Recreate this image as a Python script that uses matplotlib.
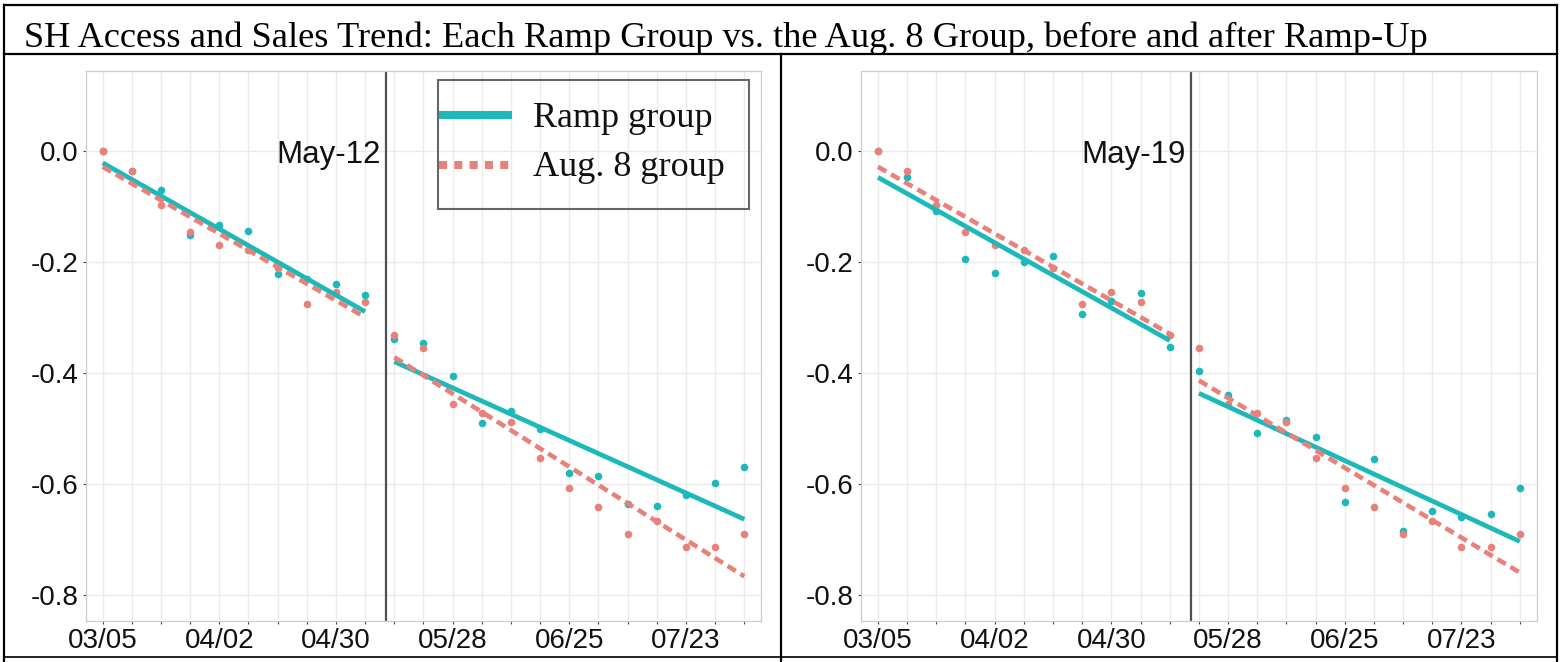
import datetime as dt
import matplotlib
matplotlib.use("Agg")
import matplotlib.pyplot as plt
import matplotlib.dates as mdates
from matplotlib.lines import Line2D
from matplotlib.patches import Rectangle
from matplotlib.ticker import FixedLocator

plt.rcParams["axes.unicode_minus"] = False

# ---------------- data ----------------
title = "SH Access and Sales Trend: Each Ramp Group vs. the Aug. 8 Group, before and after Ramp-Up"
series_names = ["Ramp group", "Aug. 8 group"]

week_start = dt.date(2019, 3, 5)
n_weeks = 23
week_dates = [week_start + dt.timedelta(weeks=i) for i in range(n_weeks)]

aug8_values = [0.000, -0.036, -0.098, -0.147, -0.170, -0.179, -0.212, -0.276, -0.255, -0.272,
               -0.332, -0.356, -0.456, -0.473, -0.489, -0.554, -0.608, -0.642, -0.691, -0.667,
               -0.714, -0.714, -0.691]

ramp_may12 = [0.000, -0.037, -0.070, -0.151, -0.133, -0.145, -0.222, -0.232, -0.240, -0.260,
              -0.340, -0.347, -0.406, -0.491, -0.469, -0.501, -0.580, -0.586, -0.637, -0.640,
              -0.620, -0.598, -0.569]

ramp_may19 = [0.000, -0.048, -0.108, -0.196, -0.220, -0.201, -0.190, -0.295, -0.270, -0.256,
              -0.353, -0.397, -0.441, -0.508, -0.485, -0.516, -0.633, -0.556, -0.685, -0.649,
              -0.660, -0.655, -0.607]

# fitted trend lines: [value at first week, value at last week] of each segment
fit_ramp_pre_may12 = [-0.022, -0.290]
fit_ramp_post_may12 = [-0.380, -0.664]
fit_aug_pre_may12 = [-0.029, -0.300]
fit_aug_post_may12 = [-0.372, -0.767]

fit_ramp_pre_may19 = [-0.048, -0.342]
fit_ramp_post_may19 = [-0.437, -0.704]
fit_aug_pre_may19 = [-0.029, -0.330]
fit_aug_post_may19 = [-0.414, -0.760]

ramp_labels = ["May-12", "May-19"]
ramp_dates = [dt.date(2019, 5, 12), dt.date(2019, 5, 19)]
split_index = [10, 11]   # first post-ramp week

y_ticks = [0.0, -0.2, -0.4, -0.6, -0.8]
x_tick_dates = week_dates[::4]

# ---------------- style ----------------
TEAL = "#1DB9BA"
SALMON = "#E9817B"
W, H = 1564, 662
SANS = "Liberation Sans"
SERIF = "Liberation Serif"


def fx(px):
    return px / W


def fy(py):
    return 1 - py / H


fig = plt.figure(figsize=(W / 100, H / 100), dpi=100)
fig.patch.set_facecolor("white")

ax_boxes = [(86, 761), (861.3, 1536.5)]
ax_top, ax_bot = 71, 620.7

panels = [
    (ramp_may12, fit_ramp_pre_may12, fit_ramp_post_may12, fit_aug_pre_may12, fit_aug_post_may12),
    (ramp_may19, fit_ramp_pre_may19, fit_ramp_post_may19, fit_aug_pre_may19, fit_aug_post_may19),
]

for i, (l, r) in enumerate(ax_boxes):
    ax = fig.add_axes([fx(l), fy(ax_bot), (r - l) / W, (ax_bot - ax_top) / H])
    ramp, f_rp, f_rq, f_ap, f_aq = panels[i]
    s = split_index[i]

    ax.scatter(week_dates, ramp, s=30, color=TEAL, linewidths=0, zorder=3)
    ax.scatter(week_dates, aug8_values, s=30, color=SALMON, linewidths=0, zorder=3.1)

    ax.plot([week_dates[0], week_dates[s - 1]], f_rp, color=TEAL, lw=3.4,
            solid_capstyle="butt", zorder=4)
    ax.plot([week_dates[s], week_dates[-1]], f_rq, color=TEAL, lw=3.4,
            solid_capstyle="butt", zorder=4)
    ax.plot([week_dates[0], week_dates[s - 1]], f_ap, color=SALMON, lw=3.3,
            dashes=(2.1, 1.2), dash_capstyle="butt", zorder=5)
    ax.plot([week_dates[s], week_dates[-1]], f_aq, color=SALMON, lw=3.3,
            dashes=(2.1, 1.2), dash_capstyle="butt", zorder=5)

    ax.axvline(ramp_dates[i], color="#505050", lw=1.6, zorder=2)
    ax.annotate(ramp_labels[i], xy=(ramp_dates[i], 0.0), xytext=(-3.4, -9.1),
                textcoords="offset points", ha="right", va="baseline",
                fontsize=22.5, family=SANS, color="#111111", zorder=6)

    ax.set_xlim(week_start - dt.timedelta(days=4.1), week_start + dt.timedelta(days=158.15))
    ax.set_ylim(-0.8468, 0.1436)

    ax.xaxis.set_major_locator(FixedLocator(mdates.date2num(x_tick_dates)))
    ax.xaxis.set_minor_locator(FixedLocator(mdates.date2num(week_dates)))
    ax.xaxis.set_major_formatter(mdates.DateFormatter("%m/%d"))
    ax.set_yticks(y_ticks)
    ax.set_yticklabels([f"{v:.1f}" for v in y_ticks])

    ax.grid(which="both", axis="x", color="#EBEBEB", lw=1.0, zorder=0)
    ax.grid(which="major", axis="y", color="#EBEBEB", lw=1.0, zorder=0)
    ax.set_axisbelow(True)
    for sp in ax.spines.values():
        sp.set_color("#CCCCCC")
        sp.set_linewidth(0.9)
    ax.tick_params(which="both", length=2.5, width=0.8, color="#444444",
                   labelsize=20, pad=3, labelcolor="#111111")
    for lab in ax.get_xticklabels() + ax.get_yticklabels():
        lab.set_family(SANS)

# ---------------- legend (overlaid box in left panel) ----------------
fig.add_artist(Rectangle((fx(437.5), fy(209)), (749 - 437.5) / W, (209 - 80) / H,
                         transform=fig.transFigure, fill=False, edgecolor="#666666", lw=1.5))
fig.add_artist(Line2D([fx(439), fx(512)], [fy(115), fy(115)], transform=fig.transFigure,
                      color=TEAL, lw=5.8, solid_capstyle="butt"))
fig.add_artist(Line2D([fx(439), fx(512)], [fy(165), fy(165)], transform=fig.transFigure,
                      color=SALMON, lw=5.8, dashes=(1.0, 0.9), dash_capstyle="butt"))
fig.text(fx(533), fy(127.3), series_names[0], fontsize=26, family=SERIF, va="baseline", color="#111111")
fig.text(fx(533), fy(175.7), series_names[1], fontsize=26, family=SERIF, va="baseline", color="#111111")

# ---------------- title and table frame ----------------
fig.text(fx(24), fy(46.7), title, fontsize=26.2, family=SERIF, va="baseline", ha="left", color="black")

frame_lines = [
    ((4, 4.7), (1556.5, 4.7), 1.6),
    ((4, 54), (1556.5, 54), 1.6),
    ((4, 656.7), (1556.5, 656.7), 1.2),
    ((4, 4.7), (4, 662), 1.6),
    ((1556.5, 4.7), (1556.5, 662), 1.6),
    ((781, 54), (781, 662), 1.6),
]
for (x0, y0), (x1, y1), lw in frame_lines:
    fig.add_artist(Line2D([fx(x0), fx(x1)], [fy(y0), fy(y1)], transform=fig.transFigure,
                          color="black", lw=lw, solid_capstyle="projecting"))

fig.savefig("out.png", dpi=100)
